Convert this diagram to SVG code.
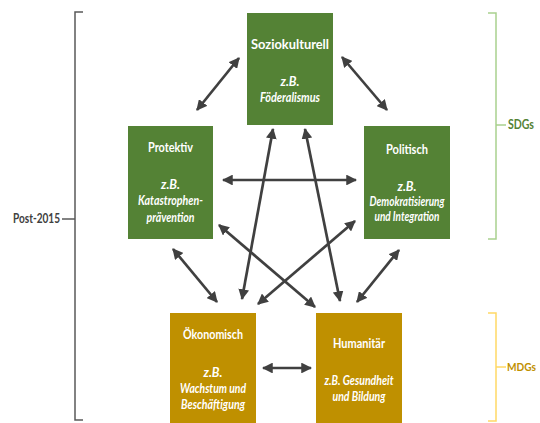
<svg xmlns="http://www.w3.org/2000/svg" width="540" height="423" viewBox="0 0 540 423">
<defs>
<style>
.g{fill:#548235}
.y{fill:#BF9000}
.t{font-family:Lato,"Open Sans",sans-serif;font-size:12.5px;fill:#fff;text-anchor:middle}
.b{font-weight:bold}
.i{font-style:italic;font-weight:bold}
.c{stroke:#404040;stroke-width:2.7;fill:none;marker-start:url(#ah);marker-end:url(#ah)}
.lbl{font-family:Lato,"Open Sans",sans-serif;font-size:12.5px;font-weight:bold}
</style>
<marker id="ah" viewBox="0 0 10 10" refX="9" refY="5" markerWidth="4" markerHeight="4" orient="auto-start-reverse" markerUnits="strokeWidth">
<path d="M0,0 L10,5 L0,10 z" fill="#404040"/>
</marker>
</defs>
<rect width="540" height="423" fill="#fff"/>
<g id="brackets" fill="none" stroke-width="1.5">
<path d="M83,12 L75,12 L75,420 L83,420 M62,219 L75,219" stroke="#595959"/>
<path d="M488,13 L496,13 L496,239 L488,239 M496,125 L506,125" stroke="#A9D18E"/>
<path d="M488,313 L496,313 L496,421 L488,421 M496,367 L506,367" stroke="#FFD966"/>
</g>
<g id="labels">
<text class="lbl" x="60" y="223" text-anchor="end" fill="#404040" textLength="47" lengthAdjust="spacingAndGlyphs">Post-2015</text>
<text class="lbl" x="508" y="129" fill="#548235" textLength="26" lengthAdjust="spacingAndGlyphs">SDGs</text>
<text class="lbl" x="507" y="371" fill="#BF9000" style="font-size:11.5px" textLength="29" lengthAdjust="spacingAndGlyphs">MDGs</text>
</g>
<g id="connectors">
<line class="c" x1="197" y1="110" x2="239" y2="58"/>
<line class="c" x1="342" y1="57" x2="387" y2="110"/>
<line class="c" x1="223" y1="180" x2="356" y2="180"/>
<line class="c" x1="273" y1="129" x2="242" y2="299"/>
<line class="c" x1="305" y1="129" x2="340" y2="301"/>
<line class="c" x1="219" y1="225" x2="315" y2="307"/>
<line class="c" x1="355" y1="221" x2="258" y2="304"/>
<line class="c" x1="173" y1="249" x2="217" y2="302"/>
<line class="c" x1="399" y1="250" x2="357" y2="302"/>
<line class="c" x1="263" y1="368" x2="311" y2="368"/>
</g>
<g id="soziokulturell">
<rect class="g" x="247" y="13" width="86" height="112"/>
<text class="t b" x="290" y="49" textLength="78" lengthAdjust="spacingAndGlyphs">Soziokulturell</text>
<text class="t i" x="290" y="86">z.B.</text>
<text class="t i" x="290" y="102" textLength="60" lengthAdjust="spacingAndGlyphs">Föderalismus</text>
</g>
<g id="protektiv">
<rect class="g" x="128" y="126" width="85" height="113"/>
<text class="t b" x="170.5" y="152" textLength="45" lengthAdjust="spacingAndGlyphs">Protektiv</text>
<text class="t i" x="170.5" y="189">z.B.</text>
<text class="t i" x="170.5" y="205" textLength="65" lengthAdjust="spacingAndGlyphs">Katastrophen-</text>
<text class="t i" x="170.5" y="222" textLength="48" lengthAdjust="spacingAndGlyphs">prävention</text>
</g>
<g id="politisch">
<rect class="g" x="364" y="126" width="86" height="113"/>
<text class="t b" x="407" y="154" textLength="42" lengthAdjust="spacingAndGlyphs">Politisch</text>
<text class="t i" x="407" y="191">z.B.</text>
<text class="t i" x="407" y="206" textLength="75" lengthAdjust="spacingAndGlyphs">Demokratisierung</text>
<text class="t i" x="407" y="221" textLength="65" lengthAdjust="spacingAndGlyphs">und Integration</text>
</g>
<g id="oekonomisch">
<rect class="y" x="170" y="313" width="86" height="110"/>
<text class="t b" x="213" y="339" textLength="60" lengthAdjust="spacingAndGlyphs">Ökonomisch</text>
<text class="t i" x="213" y="377">z.B.</text>
<text class="t i" x="213" y="393" textLength="66" lengthAdjust="spacingAndGlyphs">Wachstum und</text>
<text class="t i" x="213" y="409" textLength="64" lengthAdjust="spacingAndGlyphs">Beschäftigung</text>
</g>
<g id="humanitaer">
<rect class="y" x="316" y="313" width="86" height="110"/>
<text class="t b" x="359" y="348" textLength="52" lengthAdjust="spacingAndGlyphs">Humanitär</text>
<text class="t i" x="359" y="385" textLength="69" lengthAdjust="spacingAndGlyphs">z.B. Gesundheit</text>
<text class="t i" x="359" y="401" textLength="53" lengthAdjust="spacingAndGlyphs">und Bildung</text>
</g>
</svg>
